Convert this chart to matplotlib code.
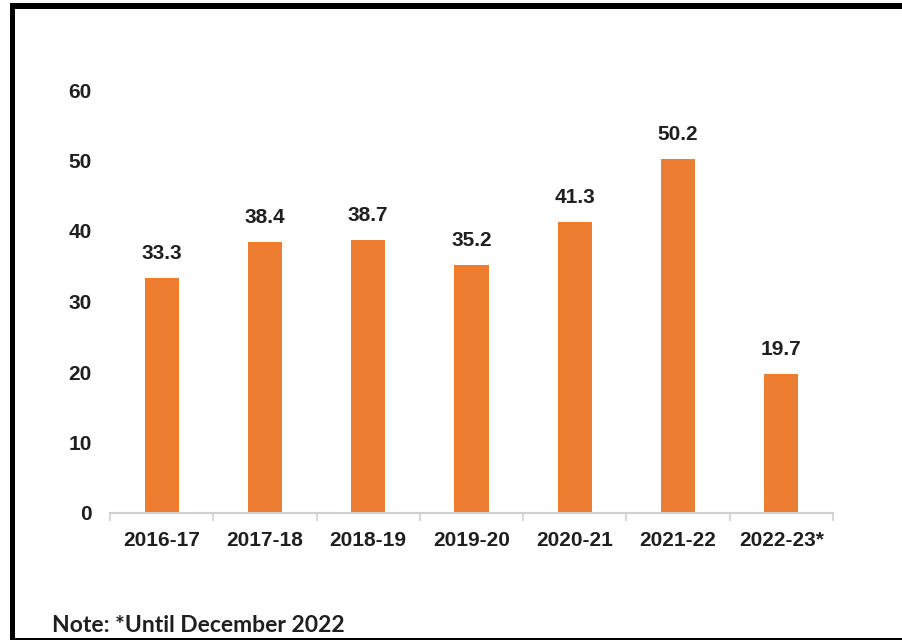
import matplotlib.pyplot as plt
import numpy as np

years = ['2016-17', '2017-18', '2018-19', '2019-20', '2020-21', '2021-22', '2022-23*']
values = [33.3, 38.4, 38.7, 35.2, 41.3, 50.2, 19.7]
yticks = [0, 10, 20, 30, 40, 50, 60]

bar_color = '#ED7D31'
text_color = '#1f1f1f'
axis_color = '#d0d0d0'

plt.rcParams['font.family'] = ['Liberation Sans', 'DejaVu Sans']

fig = plt.figure(figsize=(9.02, 6.4), dpi=100, facecolor='white')
ax = fig.add_axes([110 / 902, 1 - 513 / 640, 723 / 902, 423 / 640])

x = np.arange(len(years))
bars = ax.bar(x, values, width=0.33, color=bar_color, zorder=2)

# value labels above each bar
for xi, v in zip(x, values):
    ax.annotate(f'{v:.1f}', (xi, v), xytext=(0, 11), textcoords='offset points',
                ha='center', va='bottom', fontsize=15, fontweight='bold', color=text_color)

ax.set_xlim(-0.5, len(years) - 0.5)
ax.set_ylim(0, 60)
ax.set_yticks(yticks)
ax.set_yticklabels([str(t) for t in yticks], fontsize=15, fontweight='bold', color=text_color)
ax.tick_params(axis='y', length=0, pad=13)

# category labels, with tick marks drawn at the category boundaries
ax.set_xticks(x)
ax.set_xticklabels(years, fontsize=15, fontweight='bold', color=text_color)
ax.tick_params(axis='x', which='major', length=0, pad=13)
ax.set_xticks(np.arange(-0.5, len(years)), minor=True)
ax.tick_params(axis='x', which='minor', length=6, color=axis_color, width=1.2)

for side in ['left', 'right', 'top']:
    ax.spines[side].set_visible(False)
ax.spines['bottom'].set_color(axis_color)
ax.spines['bottom'].set_linewidth(1.5)

fig.text(52 / 902, 1 - 632 / 640, 'Note: *Until December 2022', fontsize=16.5,
         family=['Lato', 'DejaVu Sans'], fontweight='bold', color=text_color,
         ha='left', va='baseline')

# black frame around the picture (top, left, thin bottom)
fig.add_artist(plt.Rectangle((10 / 902, 1 - 9 / 640), 892 / 902, 6 / 640,
                             transform=fig.transFigure, color='black', lw=0))
fig.add_artist(plt.Rectangle((10 / 902, 0), 5 / 902, 1 - 3 / 640,
                             transform=fig.transFigure, color='black', lw=0))
fig.add_artist(plt.Rectangle((10 / 902, 0), 892 / 902, 2 / 640,
                             transform=fig.transFigure, color='black', lw=0))

fig.savefig('out.png', dpi=100, facecolor='white')
